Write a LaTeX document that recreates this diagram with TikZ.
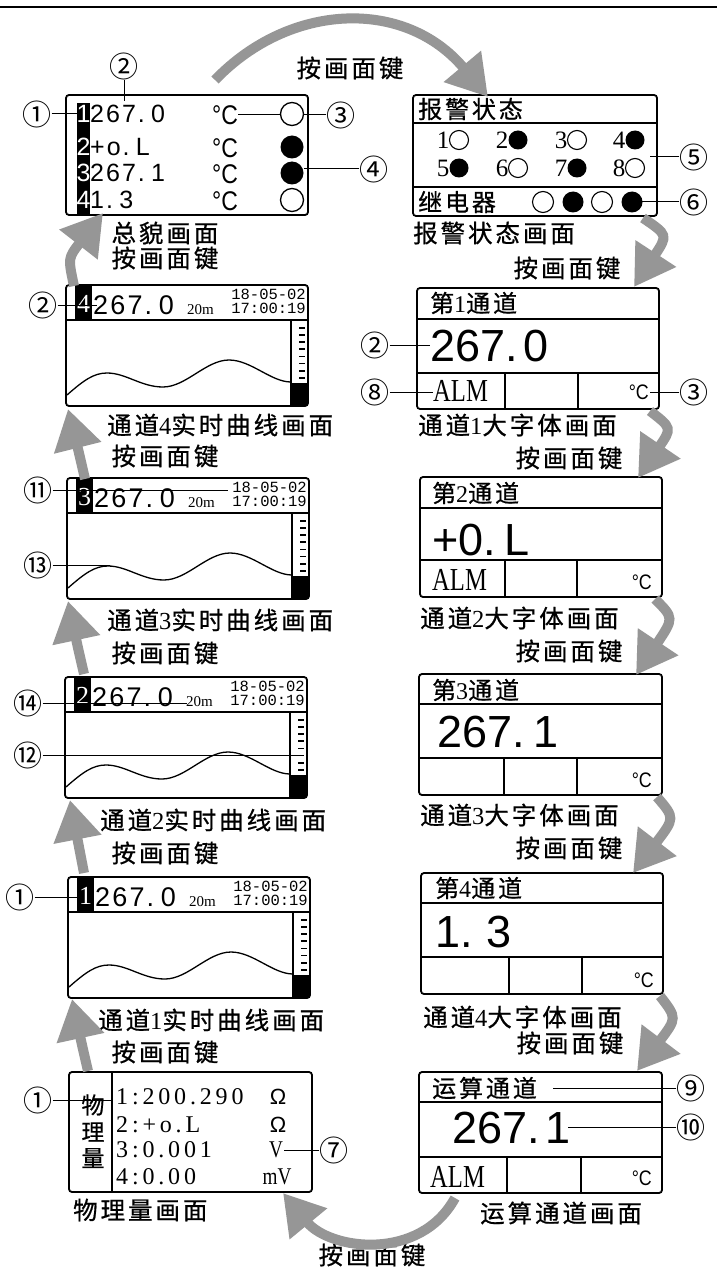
\documentclass[tikz,border=0pt]{standalone}
\usepackage{fontspec}
\usepackage{graphicx}
\usetikzlibrary{arrows.meta}
\setmainfont{Liberation Serif}
\newfontfamily\cjk[FakeBold=0.7]{Noto Sans CJK SC}
\newfontfamily\cjkc{Noto Sans CJK SC}
\newfontfamily\cjksp[LetterSpace=12,FakeBold=0.7]{Noto Sans CJK SC}
\newfontfamily\arl{Liberation Sans}
\newfontfamily\arsp[LetterSpace=8]{Liberation Sans}
\newfontfamily\mon{Liberation Mono}
\newfontfamily\tsp[LetterSpace=16]{Liberation Serif}
\newfontfamily\tms{Liberation Serif}
\definecolor{arrgray}{RGB}{150,150,150}
\newcommand\fs[1]{\fontsize{#1}{#1}\selectfont}
\newcommand\dg[1]{{\tms #1}}
\tikzset{
 panel/.style={draw, line width=1.8pt, rounded corners=3pt},
 inner/.style={line width=1.5pt},
 cl/.style={line width=1pt},
 cn/.style={font=\cjkc\fs{29}, inner sep=0pt},
 lbl/.style={font=\cjksp\fs{24.5}, inner sep=0pt},
 garrow/.style={draw=arrgray, line width=10pt, -{Triangle[length=40pt,width=46pt]}},
 txt/.style={inner sep=0pt, anchor=west},
 degc/.style={inner sep=0pt, font=\arl\fs{21}},
 bigv/.style={inner sep=0pt, anchor=west, font=\arl\fs{45}},
 alm/.style={inner sep=0pt, anchor=west, font=\tms\fs{32}},
 ttl/.style={inner sep=0pt, anchor=west, font=\cjksp\fs{24}},
}
\newcommand\trend[4]{%
\begin{scope}[shift={(#1,#2)}]
 \draw[line width=1.3pt] (1,110) .. controls (18,95) and (28,88) .. (41,88) .. controls (60,88) and (75,102) .. (97,102) .. controls (120,102) and (140,75) .. (163,75) .. controls (185,75) and (205,97) .. (225,97);
 \fill (9,1) rectangle (26,35);
 \draw[inner] (0,35) -- (242,35);
 \node[font=\tms\fs{26}, text=white, inner sep=0pt] (#4n) at (17.5,19) {#3};
 \node[txt, font=\arsp\fs{27}] (#4v) at (27,20) {267.\hspace{0.25em}0};
 \node[txt, font=\tms\fs{15}] (#4m) at (121,25) {20m};
 \node[anchor=east, inner sep=0pt, font=\mon\fs{15.5}] (#4d) at (240,9) {18-05-02};
 \node[anchor=east, inner sep=0pt, font=\mon\fs{15.5}] (#4t) at (240,23) {17:00:19};
 \draw[inner] (225,35) -- (225,121);
 \fill (225,98) rectangle (242,121);
 \foreach \k in {0,...,7} \draw[line width=1.8pt] (233,43+7.1*\k) -- (239,43+7.1*\k);
 \draw[panel] (0,0) rectangle (242,121);
\end{scope}}
\newcommand\bigpanel[8]{%
 \draw[inner] (#1,#5) -- (#3,#5);
 \draw[inner] (#1,#6) -- (#3,#6);
 \draw[inner] (#7,#6) -- (#7,#4);
 \draw[inner] (#8,#6) -- (#8,#4);
 \draw[panel] (#1,#2) rectangle (#3,#4);}
\begin{document}
\begin{tikzpicture}[x=1pt,y=-1pt]
\useasboundingbox (0,0) rectangle (717,1281);
\fill[white] (0,0) rectangle (717,1281);
\draw[line width=1.5pt] (0,7) -- (717,7);

% ---------- Panel A (总貌) ----------
\fill (77,103) rectangle (90,214);
\foreach \d/\yy in {1/114,2/147,3/173,4/200}
  \node[font=\arl\fs{25}, text=white, inner sep=0pt] (an\d) at (83.5,\yy) {\d};
\node[txt, font=\arsp\fs{25}] (a1) at (90,114) {267.\hspace{0.25em}0};
\node[txt, font=\arsp\fs{25}] (a2) at (90,147) {+o.\hspace{0.25em}L};
\node[txt, font=\arsp\fs{25}] (a3) at (90,173) {267.\hspace{0.25em}1};
\node[txt, font=\arsp\fs{25}] (a4) at (90,200) {1.\hspace{0.25em}3};
\foreach \r/\yy in {1/115,2/148,3/174,4/201}
  \node[inner sep=0pt, font=\arl\fs{27}] (ac\r) at (225,\yy) {\scalebox{0.85}[1]{°C}};
\draw[panel] (66,95) rectangle (308,215);
% callouts A
\node[cn] (cA1) at (37,114) {①};
\coordinate (pA1) at (77,114);
\draw[cl] (cA1.east) -- (pA1);
\node[cn] (cA2) at (124,66) {②};
\coordinate (pA2) at (124,101);
\draw[cl] (cA2.south) -- (pA2);
\node[cn] (cA3) at (341,115) {③};
\coordinate (pA3) at (238,115);
\draw[cl] (cA3.west) -- (pA3);
\node[cn] (cA4) at (374,169) {④};
\coordinate (pA4) at (304,169);
\draw[cl] (cA4.west) -- (pA4);
\draw[line width=1.3pt, fill=white] (292,114) circle[radius=11.5];
\fill (292,147) circle[radius=11.5];
\fill (292,173) circle[radius=11.5];
\draw[line width=1.3pt] (292,200) circle[radius=11.5];
\node[lbl] (labA) at (165,233) {总貌画面};

% ---------- Panel B (报警状态) ----------
\draw[inner] (413,123) -- (657,123);
\draw[inner] (413,187) -- (657,187);
\draw[panel] (413,95) rectangle (657,216);
\node[ttl] (bT) at (418,109) {报警状态};
\foreach \d/\sx/\f in {1/437/0,2/496/1,3/555/0,4/613/1}{
  \node[inner sep=0pt, font=\tms\fs{25}] (bd\d) at (\sx+6,140) {\d};
  \ifnum\f=1 \fill (\sx+22,140) circle[radius=9.5]; \else \draw[line width=1.1pt] (\sx+22,140) circle[radius=9.5]; \fi}
\foreach \d/\sx/\f in {5/437/1,6/496/0,7/555/1,8/613/0}{
  \node[inner sep=0pt, font=\tms\fs{25}] (bd\d) at (\sx+6,168) {\d};
  \ifnum\f=1 \fill (\sx+22,168) circle[radius=9.5]; \else \draw[line width=1.1pt] (\sx+22,168) circle[radius=9.5]; \fi}
\node[ttl] (bR) at (418,202) {继电器};
\draw[line width=1.1pt] (543,202) circle[radius=10.5];
\fill (573,202) circle[radius=10.5];
\draw[line width=1.1pt] (602,202) circle[radius=10.5];
\fill (632,202) circle[radius=10.5];
\node[cn] (cB5) at (694,157) {⑤};
\coordinate (pB5) at (650,157);
\draw[cl] (cB5.west) -- (pB5);
\node[cn] (cB6) at (694,202) {⑥};
\coordinate (pB6) at (642,202);
\draw[cl] (cB6.west) -- (pB6);
\node[lbl, anchor=west] (labB) at (413,233) {报警状态画面};

% ---------- Trend panels ----------
\trend{66}{285}{4}{tC}
\trend{67}{478}{3}{tD}
\trend{65}{677}{2}{tE}
\trend{68}{877}{1}{tF}
% callouts trend
\node[cn] (cC2) at (43,305) {②};
\coordinate (pC2) at (97,305);
\draw[cl] (cC2.east) -- (pC2);
\node[cn] (cD11) at (38,490) {⑪};
\coordinate (pD11) at (228,490);
\draw[cl] (cD11.east) -- (pD11);
\node[cn] (cD13) at (38,565) {⑬};
\coordinate (pD13) at (110,565);
\draw[cl] (cD13.east) -- (pD13);
\node[cn] (cE14) at (28,703) {⑭};
\coordinate (pE14) at (187,703);
\draw[cl] (cE14.east) -- (pE14);
\node[cn] (cE12) at (28,755) {⑫};
\coordinate (pE12) at (300,755);
\draw[cl] (cE12.east) -- (pE12);
\node[cn] (cF1) at (20,897) {①};
\coordinate (pF1) at (79,897);
\draw[cl] (cF1.east) -- (pF1);
\node[lbl, anchor=west] (labC) at (107,425) {通道\dg{4}实时曲线画面};
\node[lbl, anchor=west] (labD) at (107,620) {通道\dg{3}实时曲线画面};
\node[lbl, anchor=west] (labE) at (100,820) {通道\dg{2}实时曲线画面};
\node[lbl, anchor=west] (labF) at (98,1020) {通道\dg{1}实时曲线画面};

% ---------- Panel G (物理量) ----------
\draw[inner] (112,1072) -- (112,1192);
\draw[panel] (69,1072) rectangle (312,1192);
\node[inner sep=0pt, font=\cjk\fs{23}] (g1) at (93,1105) {物};
\node[inner sep=0pt, font=\cjk\fs{23}] (g2) at (93,1132) {理};
\node[inner sep=0pt, font=\cjk\fs{23}] (g3) at (93,1158) {量};
\node[txt, font=\tsp\fs{24}] (gr1) at (116,1097) {1:200.290};
\node[txt, font=\tsp\fs{24}] (gr2) at (116,1125) {2:+o.L};
\node[txt, font=\tsp\fs{24}] (gr3) at (116,1150) {3:0.001};
\node[txt, font=\tsp\fs{24}] (gr4) at (116,1177) {4:0.00};
\node[inner sep=0pt, font=\arl\fs{22}] (gu1) at (278,1097) {Ω};
\node[inner sep=0pt, font=\arl\fs{22}] (gu2) at (278,1125) {Ω};
\node[inner sep=0pt, font=\tms\fs{24}] (gu3) at (276,1150) {\scalebox{0.8}[1]{V}};
\node[inner sep=0pt, font=\tms\fs{24}] (gu4) at (277,1177) {\scalebox{0.8}[1]{mV}};
\node[cn] (cG1) at (38,1100) {①};
\coordinate (pG1) at (112,1100);
\draw[cl] (cG1.east) -- (pG1);
\node[cn] (cG7) at (334,1150) {⑦};
\coordinate (pG7) at (284,1150);
\draw[cl] (cG7.west) -- (pG7);
\node[lbl, anchor=west] (labG) at (73,1210) {物理量画面};

% ---------- Big panels ----------
\bigpanel{417}{288}{659}{409}{319}{373}{505}{578}
\node[ttl] (hT) at (430,303) {第\dg{1}通道};
\node[bigv] (hV) at (430,346) {267.\hspace{0.12em}0};
\node[alm] (hA) at (433,391) {\scalebox{0.77}[1]{ALM}};
\node[degc, anchor=east] (hC) at (649,392) {\scalebox{0.85}[1]{°C}};
\node[cn] (cH2) at (375,345) {②};
\coordinate (pH2) at (430,345);
\draw[cl] (cH2.east) -- (pH2);
\node[cn] (cH8) at (375,392) {⑧};
\coordinate (pH8) at (433,392);
\draw[cl] (cH8.east) -- (pH8);
\node[cn] (cH3) at (694,392) {③};
\coordinate (pH3) at (650,392);
\draw[cl] (cH3.west) -- (pH3);
\node[lbl, anchor=west] (labH) at (418,425) {通道\dg{1}大字体画面};

\bigpanel{420}{477}{662}{597}{508}{560}{505}{577}
\node[ttl] (iT) at (432,493) {第\dg{2}通道};
\node[bigv] (iV) at (432,540) {+0.\hspace{0.2em}L};
\node[alm] (iA) at (432,580) {\scalebox{0.77}[1]{ALM}};
\node[degc, anchor=east] (iC) at (652,582) {\scalebox{0.85}[1]{°C}};
\node[lbl, anchor=west] (labI) at (420,618) {通道\dg{2}大字体画面};

\bigpanel{419}{674}{662}{795}{704}{758}{504}{577}
\node[ttl] (jT) at (432,690) {第\dg{3}通道};
\node[bigv] (jV) at (437,732) {267.\hspace{0.2em}1};
\node[degc, anchor=east] (jC) at (652,780) {\scalebox{0.85}[1]{°C}};
\node[lbl, anchor=west] (labJ) at (420,815) {通道\dg{3}大字体画面};

\bigpanel{421}{873}{663}{994}{903}{957}{509}{582}
\node[ttl] (kT) at (435,888) {第\dg{4}通道};
\node[bigv] (kV) at (435,932) {1.\hspace{0.3em}3};
\node[degc, anchor=east] (kC) at (654,980) {\scalebox{0.85}[1]{°C}};
\node[lbl, anchor=west] (labK) at (423,1017) {通道\dg{4}大字体画面};

\bigpanel{419}{1072}{662}{1193}{1102}{1157}{507}{581}
\node[ttl] (lT) at (432,1088) {运算通道};
\node[bigv] (lV) at (452,1128) {267.\hspace{0.12em}1};
\node[alm] (lA) at (430,1177) {\scalebox{0.77}[1]{ALM}};
\node[degc, anchor=east] (lC) at (652,1178) {\scalebox{0.85}[1]{°C}};
\node[cn] (cL9) at (691,1088) {⑨};
\coordinate (pL9) at (553,1088);
\draw[cl] (cL9.west) -- (pL9);
\node[cn] (cL10) at (691,1127) {⑩};
\coordinate (pL10) at (568,1127);
\draw[cl] (cL10.west) -- (pL10);
\node[lbl, anchor=west] (labL) at (480,1213) {运算通道画面};

% ---------- 按画面键 labels ----------
\node[lbl] (k0) at (350,68) {按画面键};
\node[lbl] (k1) at (165,258) {按画面键};
\node[lbl] (k2) at (165,456) {按画面键};
\node[lbl] (k3) at (165,653) {按画面键};
\node[lbl] (k4) at (165,853) {按画面键};
\node[lbl] (k5) at (165,1052) {按画面键};
\node[lbl] (k6) at (567,268) {按画面键};
\node[lbl] (k7) at (569,458) {按画面键};
\node[lbl] (k8) at (569,651) {按画面键};
\node[lbl] (k9) at (569,848) {按画面键};
\node[lbl] (k10) at (570,1043) {按画面键};
\node[lbl] (k11) at (372,1255) {按画面键};

% ---------- Arrows ----------
\coordinate (s0) at (215,80); \coordinate (t0) at (488,97);
\draw[garrow] (s0) .. controls (290,2) and (405,-2) .. (t0);
\coordinate (s1) at (643,218); \coordinate (t1) at (634,287);
\draw[garrow] (s1) .. controls (668,235) .. (t1);
\coordinate (s2) at (650,411); \coordinate (t2) at (638,478);
\draw[garrow] (s2) .. controls (672,428) .. (t2);
\coordinate (s3) at (655,599); \coordinate (t3) at (636,675);
\draw[garrow] (s3) .. controls (674,618) .. (t3);
\coordinate (s4) at (657,797); \coordinate (t4) at (633,873);
\draw[garrow] (s4) .. controls (675,818) .. (t4);
\coordinate (s5) at (660,996); \coordinate (t5) at (637,1071);
\draw[garrow] (s5) .. controls (677,1018) .. (t5);
\coordinate (s6) at (455,1198); \coordinate (t6) at (283,1193);
\draw[garrow] (s6) .. controls (420,1262) and (330,1250) .. (t6);
\coordinate (s7) at (88,1071); \coordinate (t7) at (72,999);
\draw[garrow] (s7) .. controls (82,1045) .. (t7);
\coordinate (s8) at (84,873); \coordinate (t8) at (70,800);
\draw[garrow] (s8) .. controls (79,847) .. (t8);
\coordinate (s9) at (84,674); \coordinate (t9) at (68,601);
\draw[garrow] (s9) .. controls (78,648) .. (t9);
\coordinate (s10) at (85,479); \coordinate (t10) at (68,409);
\draw[garrow] (s10) .. controls (79,453) .. (t10);
\coordinate (s11) at (74,286); \coordinate (t11) at (103,213);
\draw[garrow] (s11) .. controls (68,258) .. (t11);
\end{tikzpicture}
\end{document}
